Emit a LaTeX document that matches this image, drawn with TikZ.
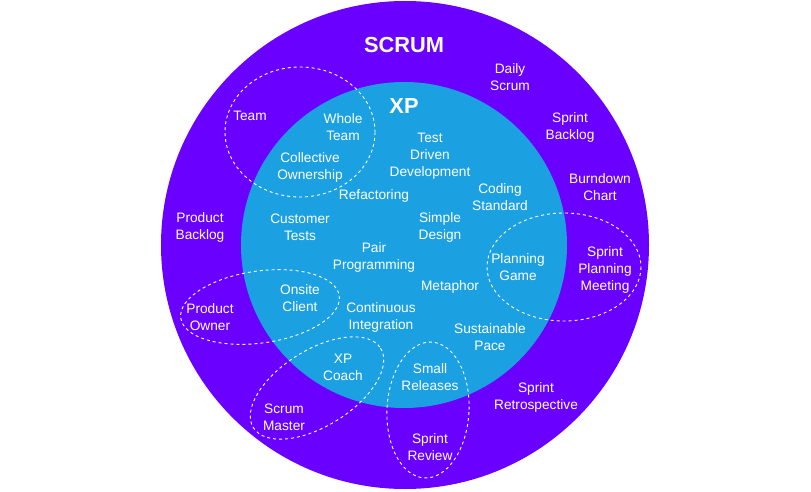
\documentclass[tikz,border=0pt]{standalone}
\usepackage{fontspec}
\setmainfont{Liberation Sans}
\definecolor{scrumviolet}{HTML}{6A00FF}
\definecolor{xpblue}{HTML}{1BA1E2}

\begin{document}
\begin{tikzpicture}[x=1pt, y=-1pt,
		lbl/.style={text=white, align=center, inner sep=0pt, font=\fontsize{13.7}{17}\selectfont},
		ttl/.style={text=white, inner sep=0pt, font=\fontsize{21.8}{26}\selectfont\bfseries},
		grp/.style={draw=white, line width=0.9pt, dash pattern=on 3pt off 3pt}]
		\useasboundingbox (0,0) rectangle (811,492);
		\fill[scrumviolet] (405,245) circle (244);
		\fill[xpblue] (404,245) circle (163);

		\draw[grp] (300,132) ellipse (75 and 65);
		\draw[grp] (564,267) ellipse (77 and 54);
		\draw[grp, rotate around={8:(260,307)}] (260,307) ellipse (80 and 36);
		\draw[grp, rotate around={32:(317,388)}] (317,388) ellipse (75 and 38);
		\draw[grp, rotate around={-3:(428,410)}] (428,410) ellipse (41 and 68);

		\node[ttl] at (404,45)(scrum){SCRUM};
		\node[ttl] at (404,106)(xp){XP};

		\node[lbl] at (510,77)(daily){Daily\\Scrum};
		\node[lbl] at (570,127)(sbacklog){Sprint\\Backlog};
		\node[lbl] at (600,187)(burndown){Burndown\\Chart};
		\node[lbl] at (200,227)(pbacklog){Product\\Backlog};
		\node[lbl] at (250,116)(team){Team};
		\node[lbl] at (605,270)(planmeet){Sprint\\Planning\\Meeting};
		\node[lbl] at (210,317)(owner){Product\\Owner};
		\node[lbl] at (284,417)(master){Scrum\\Master};
		\node[lbl] at (536,397)(retro){Sprint\\Retrospective};
		\node[lbl] at (430,447)(review){Sprint\\Review};

		\node[lbl] at (343,127)(whole){Whole\\Team};
		\node[lbl] at (310,167)(collective){Collective\\Ownership};
		\node[lbl] at (430,156)(tdd){Test\\Driven\\Development};
		\node[lbl] at (374,196)(refactor){Refactoring};
		\node[lbl] at (500,197)(coding){Coding\\Standard};
		\node[lbl] at (300,227)(custtests){Customer\\Tests};
		\node[lbl] at (440,227)(simple){Simple\\Design};
		\node[lbl] at (374,257)(pair){Pair\\Programming};
		\node[lbl] at (518,267)(plangame){Planning\\Game};
		\node[lbl] at (450,287)(metaphor){Metaphor};
		\node[lbl] at (300,298)(onsite){Onsite\\Client};
		\node[lbl] at (381,317)(ci){Continuous\\Integration};
		\node[lbl] at (490,337)(pace){Sustainable\\Pace};
		\node[lbl] at (343,367)(coach){XP\\Coach};
		\node[lbl] at (430,377)(releases){Small\\Releases};
	\end{tikzpicture}
\end{document}
